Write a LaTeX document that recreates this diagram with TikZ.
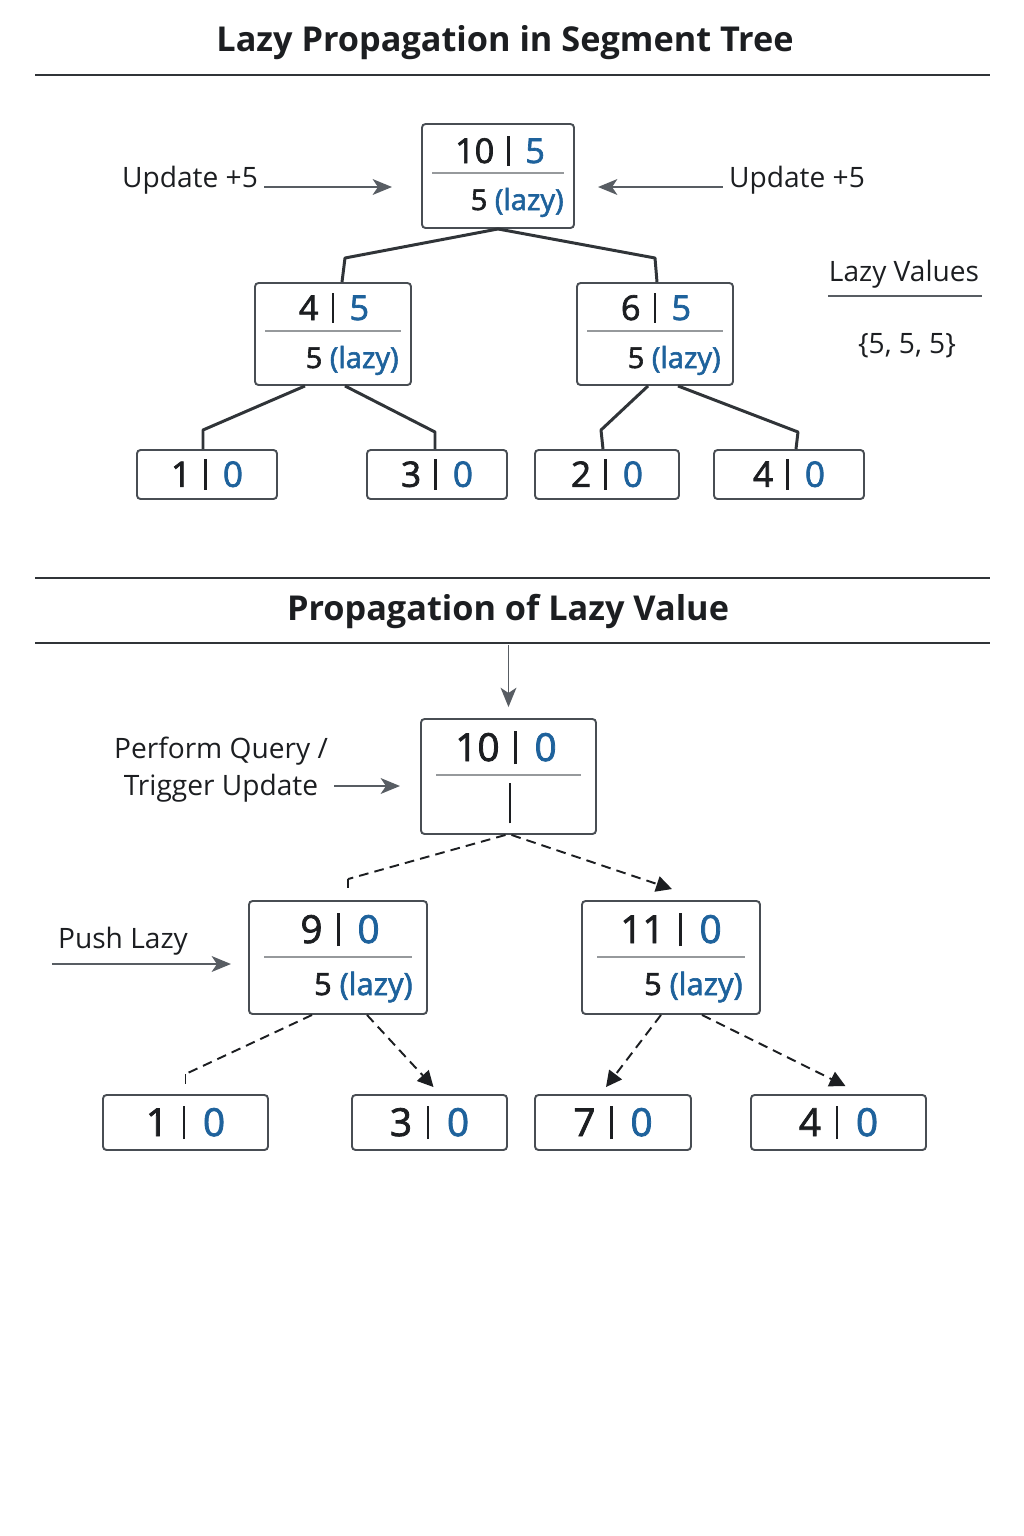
\documentclass[tikz,border=0pt]{standalone}
\usepackage{fontspec}
\setmainfont{Open Sans}
\newfontfamily\numfont[FakeBold=2]{Open Sans}
\usepackage{tikz}
\usetikzlibrary{arrows.meta, positioning}

\definecolor{valblue}{RGB}{30,98,156}
\definecolor{textdark}{RGB}{28,30,33}
\definecolor{boxgray}{RGB}{72,77,83}
\definecolor{edgegray}{RGB}{48,52,56}
\definecolor{arrowgray}{RGB}{88,93,99}
\definecolor{sepgray}{RGB}{150,153,156}

\newcommand{\segbar}{\hspace{0.38em}\rule[-0.08em]{0.065em}{0.86em}\hspace{0.46em}}

\begin{document}
\begin{tikzpicture}[x=0.02cm, y=-0.02cm, >=Stealth]

    % Define the styles
    \tikzstyle{box} = [rectangle, draw=boxgray, line width=1.1pt, rounded corners=2pt, fill=white, inner sep=0pt]
    \tikzstyle{leafbox} = [box, minimum height=0.98cm, text=textdark, font=\numfont\fontsize{20}{24}\selectfont]
    \tikzstyle{qleafbox} = [box, minimum height=1.1cm, text=textdark, font=\numfont\fontsize{22}{26}\selectfont]
    \tikzstyle{heading} = [text=textdark, font=\bfseries\fontsize{19.5}{23}\selectfont]
    \tikzstyle{note} = [text=textdark, font=\fontsize{16}{21}\selectfont]
    \tikzstyle{sumtext} = [anchor=base, inner sep=0pt, text=textdark, font=\numfont\fontsize{19.5}{23}\selectfont]
    \tikzstyle{qsumtext} = [anchor=base, inner sep=0pt, text=textdark, font=\numfont\fontsize{22}{26}\selectfont]
    \tikzstyle{lazytext} = [anchor=base east, inner sep=0pt, text=textdark, font=\numfont\fontsize{16.5}{20}\selectfont]
    \tikzstyle{qlazytext} = [anchor=base east, inner sep=0pt, text=textdark, font=\numfont\fontsize{17.5}{21}\selectfont]
    \tikzstyle{divider} = [draw=sepgray, line width=0.7pt]
    \tikzstyle{hrule} = [draw=edgegray, line width=1pt]
    \tikzstyle{treeline} = [draw=edgegray, line width=1.7pt, line join=round]
    \tikzstyle{arrow} = [-{Stealth[length=11pt, width=9pt, inset=3pt]}, draw=arrowgray, line width=1.1pt]
    \tikzstyle{dashline} = [draw=textdark, line width=1.1pt, dash pattern=on 5.5pt off 3.5pt]
    \tikzstyle{dasharrow} = [dashline, -{Triangle[length=9pt, width=9pt]}]
    \tikzstyle{tick} = [draw=textdark, line width=1.1pt]

    \useasboundingbox (0,0) rectangle (1024,1536);

    % Titles
    \node[heading] (title1) at (505,43) {Lazy Propagation in Segment Tree};
    \draw[hrule] (35,75) -- (990,75);
    \draw[hrule] (35,578) -- (990,578);
    \node[heading] (title2) at (508,611) {Propagation of Lazy Value};
    \draw[hrule] (35,643) -- (990,643);

    % Upper tree
    \node[box, minimum width=3.04cm, minimum height=2.08cm] (root) at (498,176) {};
    \node[sumtext] (rootsum) at (500,163) {10\segbar\textcolor{valblue}{5}};
    \draw[divider] (432,173) -- (564,173);
    \node[lazytext] (rootlazy) at (564,210) {5 \textcolor{valblue}{(lazy)}};

    \node[box, minimum width=3.12cm, minimum height=2.04cm] (lchild) at (333,334) {};
    \node[sumtext] (lchildsum) at (334,320) {4\segbar\textcolor{valblue}{5}};
    \draw[divider] (265,331) -- (401,331);
    \node[lazytext] (lchildlazy) at (399,368) {5 \textcolor{valblue}{(lazy)}};

    \node[box, minimum width=3.12cm, minimum height=2.04cm] (rchild) at (655,334) {};
    \node[sumtext] (rchildsum) at (656,320) {6\segbar\textcolor{valblue}{5}};
    \draw[divider] (587,331) -- (723,331);
    \node[lazytext] (rchildlazy) at (721,368) {5 \textcolor{valblue}{(lazy)}};

    \node[leafbox, minimum width=2.8cm] (leafa) at (207,474.5) {1\segbar\textcolor{valblue}{0}};
    \node[leafbox, minimum width=2.8cm] (leafb) at (437,474.5) {3\segbar\textcolor{valblue}{0}};
    \node[leafbox, minimum width=2.88cm] (leafc) at (607,474.5) {2\segbar\textcolor{valblue}{0}};
    \node[leafbox, minimum width=3cm] (leafd) at (789,474.5) {4\segbar\textcolor{valblue}{0}};

    \draw[treeline] (root.south) -- (345,258) -- ([xshift=0.18cm]lchild.north);
    \draw[treeline] (root.south) -- (655,258) -- ([xshift=0.04cm]rchild.north);
    \draw[treeline] ([xshift=-0.56cm]lchild.south) -- (203,430) -- ([xshift=-0.08cm]leafa.north);
    \draw[treeline] ([xshift=0.24cm]lchild.south) -- (435,432) -- ([xshift=-0.04cm]leafb.north);
    \draw[treeline] ([xshift=-0.14cm]rchild.south) -- (601,430) -- ([xshift=-0.08cm]leafc.north);
    \draw[treeline] ([xshift=0.46cm]rchild.south) -- (798,432) -- ([xshift=0.14cm]leafd.north);

    % Update labels
    \node[note] (updl) at (190,180) {Update +5};
    \coordinate (updlend) at (392,187);
    \draw[arrow] (updl.east |- updlend) -- (updlend);
    \node[note] (updr) at (797,180) {Update +5};
    \coordinate (updrend) at (598,187);
    \draw[arrow] (updr.west |- updrend) -- (updrend);

    \node[note] (lazyhead) at (904,274) {Lazy Values};
    \draw[divider, draw=arrowgray, line width=1.1pt] (828,296) -- (982,296);
    \node[note] (lazyset) at (907,346) {\{5, 5, 5\}};

    % Lower tree
    \node[box, minimum width=3.5cm, minimum height=2.3cm] (qroot) at (508.5,776.5) {};
    \node[qsumtext] (qrootsum) at (506,761) {10\segbar\textcolor{valblue}{0}};
    \draw[divider] (436,775) -- (581,775);
    \node[qsumtext, anchor=center] (qrootlazy) at (510,803) {\rule{0.065em}{1.05em}};

    \coordinate (rule2b) at (511,645);
    \draw[arrow] (qroot.north |- rule2b) -- ([yshift=0.22cm]qroot.north);

    \node[box, minimum width=3.56cm, minimum height=2.26cm] (qleft) at (338,957.5) {};
    \node[qsumtext] (qleftsum) at (340,943) {9\segbar\textcolor{valblue}{0}};
    \draw[divider] (264,957) -- (412,957);
    \node[qlazytext] (qleftlazy) at (413,995) {5 \textcolor{valblue}{(lazy)}};

    \node[box, minimum width=3.56cm, minimum height=2.26cm] (qright) at (671,957.5) {};
    \node[qsumtext] (qrightsum) at (671,943) {11\segbar\textcolor{valblue}{0}};
    \draw[divider] (597,957) -- (745,957);
    \node[qlazytext] (qrightlazy) at (743,995) {5 \textcolor{valblue}{(lazy)}};

    \node[qleafbox, minimum width=3.3cm] (qleafa) at (185.5,1122.5) {1\segbar\textcolor{valblue}{0}};
    \node[qleafbox, minimum width=3.1cm] (qleafb) at (429.5,1122.5) {3\segbar\textcolor{valblue}{0}};
    \node[qleafbox, minimum width=3.12cm] (qleafc) at (613,1122.5) {7\segbar\textcolor{valblue}{0}};
    \node[qleafbox, minimum width=3.5cm] (qleafd) at (838.5,1122.5) {4\segbar\textcolor{valblue}{0}};

    % Labels
    \node[note, align=center] (query) at (221,770) {Perform Query /\\Trigger Update};
    \coordinate (queryend) at (400,786);
    \draw[arrow] (query.east |- queryend) -- (queryend);

    \node[note] (pushlbl) at (123,941) {Push Lazy};
    \coordinate (pushend) at (231,964);
    \draw[arrow] (pushlbl.west |- pushend) -- (pushend);

    % Dashed pushes
    \draw[dashline] ([xshift=-0.06cm]qroot.south) -- ([xshift=0.2cm, yshift=0.42cm]qleft.north) coordinate (qlefttip);
    \draw[tick] (qlefttip) -- ++(0,9);
    \draw[dasharrow] ([xshift=0.06cm]qroot.south) -- ([xshift=0.02cm, yshift=0.22cm]qright.north);

    \draw[dashline] ([xshift=-0.52cm]qleft.south) -- ([yshift=0.4cm]qleafa.north) coordinate (qleafatip);
    \draw[tick] (qleafatip) -- ++(0,10);
    \draw[dasharrow] ([xshift=0.58cm]qleft.south) -- ([xshift=0.08cm, yshift=0.14cm]qleafb.north);
    \draw[dasharrow] ([xshift=-0.2cm]qright.south) -- ([xshift=-0.14cm, yshift=0.14cm]qleafc.north);
    \draw[dasharrow] ([xshift=0.62cm]qright.south) -- ([xshift=0.14cm, yshift=0.16cm]qleafd.north);

\end{tikzpicture}
\end{document}
